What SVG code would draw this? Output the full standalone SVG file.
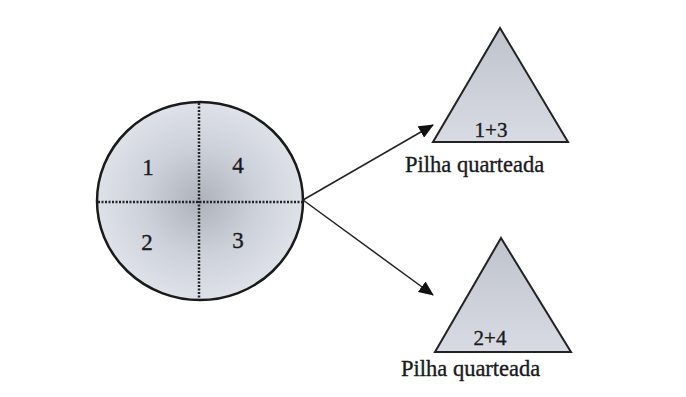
<svg xmlns="http://www.w3.org/2000/svg" width="686" height="397" viewBox="0 0 686 397">
<defs>
<radialGradient id="gc" cx="0.5" cy="0.5" r="0.55">
<stop offset="0" stop-color="#aeb3bb"/>
<stop offset="0.5" stop-color="#cdd1d9"/>
<stop offset="1" stop-color="#e2e5ec"/>
</radialGradient>
<linearGradient id="gt" x1="0" y1="0" x2="0" y2="1">
<stop offset="0" stop-color="#bfc3cc"/>
<stop offset="1" stop-color="#d8dbe3"/>
</linearGradient>
<marker id="ah2" markerWidth="15" markerHeight="13" refX="14" refY="6.5" orient="auto" markerUnits="userSpaceOnUse" viewBox="0 0 15 13">
<path d="M0,0 L15,6.5 L0,13 Z" fill="#111"/>
</marker>
</defs>
<style>
text{font-family:"Liberation Serif","Times New Roman",serif;fill:#1a1a1a;stroke:#1a1a1a;stroke-width:0.35}
.num{font-size:23px;text-anchor:middle}
.lab{font-size:22.5px}
.tri{fill:url(#gt);stroke:#222;stroke-width:2}
.dot{stroke:#222;stroke-width:2.5;stroke-dasharray:2 1.5;fill:none}
.con{stroke:#222;stroke-width:1.5;fill:none;marker-end:url(#ah2)}
</style>
<rect width="686" height="397" fill="#ffffff"/>
<g id="circle">
<ellipse cx="200" cy="201" rx="103" ry="99" fill="url(#gc)" stroke="#1a1a1a" stroke-width="2.5"/>
<line class="dot" x1="98" y1="202" x2="302" y2="202"/>
<line class="dot" x1="199" y1="103" x2="199" y2="299"/>
<text class="num" x="148" y="175">1</text>
<text class="num" x="238" y="173">4</text>
<text class="num" x="147" y="250">2</text>
<text class="num" x="238" y="248">3</text>
</g>
<g id="connectors">
<line class="con" x1="303" y1="200" x2="433" y2="125"/>
<line class="con" x1="303" y1="200" x2="433" y2="295"/>
</g>
<g id="pile1">
<polygon class="tri" points="500,28 568,142 433,142"/>
<text class="num" x="491" y="137" style="font-size:21px">1+3</text>
<text class="lab" x="405" y="172">Pilha quarteada</text>
</g>
<g id="pile2">
<polygon class="tri" points="501,238 571,352 435,352"/>
<text class="num" x="490" y="345" style="font-size:21px">2+4</text>
<text class="lab" x="401" y="376">Pilha quarteada</text>
</g>
</svg>
